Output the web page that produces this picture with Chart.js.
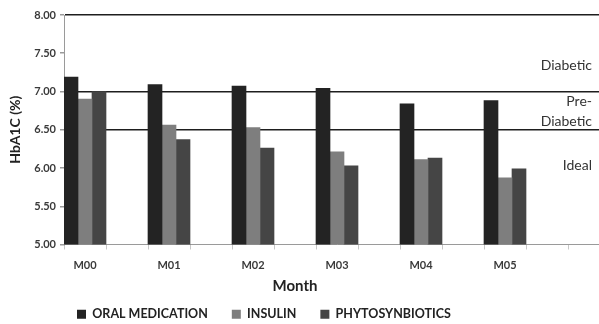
<!DOCTYPE html>
<html>
<head>
<meta charset="utf-8">
<script src="https://cdn.jsdelivr.net/npm/chart.js@4/dist/chart.umd.min.js"></script>
<style>
  html, body { margin: 0; padding: 0; overflow: hidden; background: #fff; }
  #wrap { width: 610px; height: 324px; }
</style>
</head>
<body>
<div id="wrap"><canvas id="c" width="610" height="324"></canvas></div>
<script>
const months = ["M00", "M01", "M02", "M03", "M04", "M05"];
const oralMedication = [7.19, 7.09, 7.07, 7.04, 6.84, 6.88];
const insulin = [6.90, 6.56, 6.53, 6.21, 6.11, 5.87];
const phytosynbiotics = [7.00, 6.37, 6.26, 6.03, 6.13, 5.99];
const yTicks = [5.00, 5.50, 6.00, 6.50, 7.00, 7.50, 8.00];
const thresholdLines = [6.50, 7.00, 8.00];
const zoneLabels = ["Diabetic", "Pre-", "Diabetic", "Ideal"];

// category slots: every month followed by an empty slot (as in the source chart)
const slots = [];
months.forEach(m => { slots.push(m); slots.push(""); });
slots.push("");
function spread(arr) {
  const out = [];
  arr.forEach(v => { out.push(v); out.push(null); });
  out.push(null);
  return out;
}

const FONT = "Lato, 'Open Sans', sans-serif";

const annot = {
  id: 'annot',
  beforeDraw(chart) {
    const lg = chart.legend;
    if (lg) {
      const h = lg.bottom - lg.top;
      lg.left = 53;
      lg.top = 284;
      lg.bottom = lg.top + h;
    }
  },
  afterDraw(chart) {
    const ctx = chart.ctx;
    ctx.save();
    ctx.fillStyle = '#333';
    ctx.font = "14px " + FONT;
    ctx.textAlign = 'right';
    ctx.textBaseline = 'middle';
    ctx.fillText(zoneLabels[0], 592, 65);
    ctx.fillText(zoneLabels[1], 592, 101);
    ctx.fillText(zoneLabels[2], 592, 121);
    ctx.fillText(zoneLabels[3], 592, 165);
    ctx.fillStyle = '#222';
    ctx.font = "bold 15px " + FONT;
    ctx.textAlign = 'center';
    ctx.fillText("Month", 295, 286);
    ctx.restore();
  }
};

new Chart(document.getElementById('c'), {
  type: 'bar',
  data: {
    labels: slots,
    datasets: [
      { label: 'ORAL MEDICATION', data: spread(oralMedication), backgroundColor: '#232323' },
      { label: 'INSULIN', data: spread(insulin), backgroundColor: '#7e7e7e' },
      { label: 'PHYTOSYNBIOTICS', data: spread(phytosynbiotics), backgroundColor: '#454545' }
    ]
  },
  options: {
    responsive: false,
    animation: false,
    layout: { padding: { top: 15, left: 0, right: 0, bottom: 0 } },
    datasets: { bar: { categoryPercentage: 1.0, barPercentage: 1.0, borderWidth: 0 } },
    plugins: {
      legend: {
        position: 'bottom',
        align: 'start',
        labels: {
          boxWidth: 9, boxHeight: 9, padding: 24,
          color: '#222',
          font: { family: FONT, size: 12.5, weight: 'bold' }
        }
      },
      tooltip: { enabled: false }
    },
    scales: {
      x: {
        offset: true,
        grid: { drawOnChartArea: false, offset: true, tickLength: 5, tickColor: '#c8c8c8' },
        border: { color: '#9a9a9a', width: 1 },
        ticks: {
          autoSkip: false, maxRotation: 0, padding: 9,
          color: '#3a3a3a',
          font: { family: FONT, size: 11, weight: 'bold' }
        },
        afterFit: s => { s.height = 33; }
      },
      y: {
        min: 5, max: 8,
        afterBuildTicks: s => { s.ticks = yTicks.map(v => ({ value: v })); },
        grid: {
          color: ctx => (ctx.tick && thresholdLines.includes(ctx.tick.value)) ? '#1e1e1e' : 'rgba(0,0,0,0)',
          lineWidth: 1.5,
          tickLength: 4,
          tickColor: '#9a9a9a'
        },
        border: { color: '#9a9a9a', width: 1 },
        ticks: {
          padding: 4,
          color: '#3a3a3a',
          font: { family: FONT, size: 11, weight: 'bold' },
          callback: v => Number(v).toFixed(2)
        },
        title: {
          display: true, text: 'HbA1C (%)', color: '#222',
          font: { family: FONT, size: 14, weight: 'bold' },
          padding: { top: 7, bottom: 0 }
        },
        afterFit: s => { s.width = 64; }
      }
    }
  },
  plugins: [annot]
});
</script>
</body>
</html>
